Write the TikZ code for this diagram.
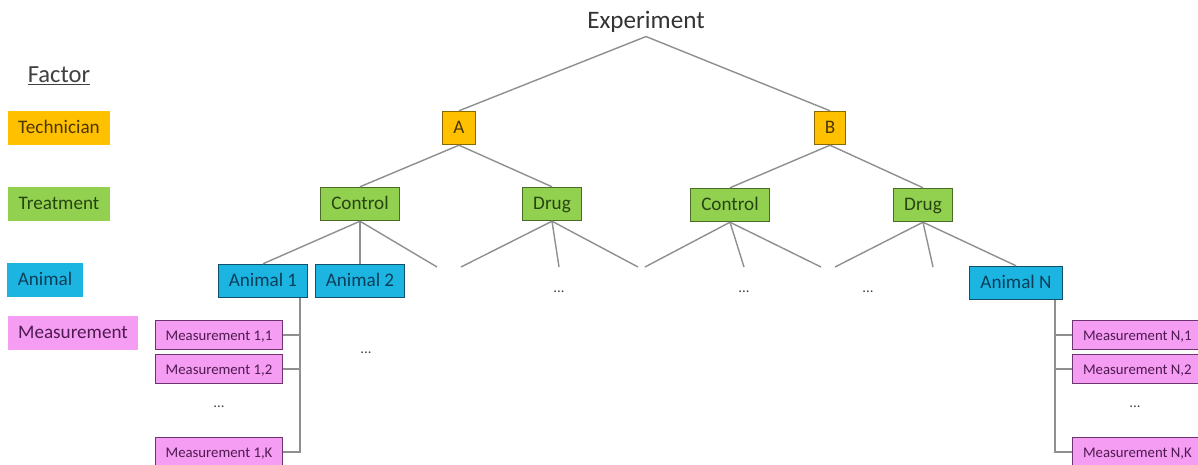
\documentclass[tikz,border=0pt]{standalone}
\usepackage{fontspec}
\setmainfont{Carlito}
\usetikzlibrary{positioning}

\definecolor{linegray}{HTML}{8F8F8F}
\definecolor{techfill}{HTML}{FFC000}
\definecolor{techline}{HTML}{8A6800}
\definecolor{techtext}{HTML}{4A3600}
\definecolor{treatfill}{HTML}{92D050}
\definecolor{treatline}{HTML}{4A6A28}
\definecolor{treattext}{HTML}{264410}
\definecolor{animfill}{HTML}{1CB5E2}
\definecolor{animline}{HTML}{10506A}
\definecolor{animtext}{HTML}{0A3E58}
\definecolor{measfill}{HTML}{F59CF3}
\definecolor{measline}{HTML}{6E3470}
\definecolor{meastext}{HTML}{4E1A50}

\begin{document}
\begin{tikzpicture}[x=0.02cm,y=-0.02cm,
    link/.style={draw=linegray, line width=0.8pt},
    box/.style={draw, line width=0.6pt, inner xsep=6pt, inner ysep=0pt,
        text height=1.45ex, text depth=0.12ex,
        minimum height=19pt, font=\fontsize{10.9}{13}\selectfont},
    tech/.style={box, fill=techfill, draw=techline, text=techtext},
    treat/.style={box, fill=treatfill, draw=treatline, text=treattext},
    anim/.style={box, fill=animfill, draw=animline, text=animtext},
    meas/.style={box, fill=measfill, draw=measline, text=meastext,
        minimum height=17pt, font=\fontsize{8.4}{10}\selectfont},
    legend/.style={draw=none},
    more/.style={text=black!75, font=\fontsize{8.4}{10}\selectfont}]

    \useasboundingbox (0,0) rectangle (1198,465);

    %factor legend:
    \node[font=\fontsize{14}{16}\selectfont, text=black!75] (factor) at (59,76) {\underline{Factor}};
    \node[tech, legend] (ltech) at (59,128) {Technician};
    \node[treat, legend] (ltreat) at (59,204) {Treatment};
    \node[anim, legend] (lanim) at (45,280) {Animal};
    \node[box, fill=measfill, draw=none, text=meastext] (lmeas) at (73,333) {Measurement};

    %tree:
    \node[font=\fontsize{14.3}{16}\selectfont, text=black!80, inner sep=2pt] (exp) at (646,22) {Experiment};
    \node[tech] (techA) at (459,128) {A};
    \node[tech] (techB) at (830,128) {B};
    \node[treat] (ctlA) at (360,204) {Control};
    \node[treat] (drgA) at (552,204) {Drug};
    \node[treat] (ctlB) at (730,205) {Control};
    \node[treat] (drgB) at (923,205) {Drug};
    \node[anim] (a1) at (263,281) {Animal 1};
    \node[anim] (a2) at (360,281) {Animal 2};
    \node[anim] (aN) at (1016,283) {Animal N};

    %loose ends:
    \coordinate (ctlA3) at (437,267);
    \coordinate (drgA1) at (461,267);
    \coordinate (drgA2) at (559,267);
    \coordinate (drgA3) at (638,267);
    \coordinate (ctlB1) at (645,267);
    \coordinate (ctlB2) at (744,267);
    \coordinate (ctlB3) at (821,267);
    \coordinate (drgB1) at (835,267);
    \coordinate (drgB2) at (933,267);

    \draw[link] (exp.south) -- (techA.north);
    \draw[link] (exp.south) -- (techB.north);
    \draw[link] (techA.south) -- (ctlA.north);
    \draw[link] (techA.south) -- (drgA.north);
    \draw[link] (techB.south) -- (ctlB.north);
    \draw[link] (techB.south) -- (drgB.north);
    \draw[link] (ctlA.south) -- (a1.north);
    \draw[link] (ctlA.south) -- (a2.north);
    \draw[link] (ctlA.south) -- (ctlA3);
    \draw[link] (drgA.south) -- (drgA1);
    \draw[link] (drgA.south) -- (drgA2);
    \draw[link] (drgA.south) -- (drgA3);
    \draw[link] (ctlB.south) -- (ctlB1);
    \draw[link] (ctlB.south) -- (ctlB2);
    \draw[link] (ctlB.south) -- (ctlB3);
    \draw[link] (drgB.south) -- (drgB1);
    \draw[link] (drgB.south) -- (drgB2);
    \draw[link] (drgB.south) -- (aN.north);

    \node[more] (dotsA2) at (366,353) {...};
    \node[more] (dotsDA) at (559,292) {...};
    \node[more] (dotsCB) at (744,292) {...};
    \node[more] (dotsDB) at (868,292) {...};

    %measurements of animal 1:
    \node[meas] (m11) at (219,335) {Measurement 1,1};
    \node[meas] (m12) at (219,369) {Measurement 1,2};
    \node[more] (dots1) at (219,407) {...};
    \node[meas] (m1k) at (219,452) {Measurement 1,K};
    \coordinate (bus1) at (300,452);
    \draw[link] (a1.south -| bus1) -- (bus1) -- (m1k.east);
    \draw[link] (m11.east) -- (m11.east -| bus1);
    \draw[link] (m12.east) -- (m12.east -| bus1);

    %measurements of animal N:
    \node[meas, anchor=west] (mN1) at (1072,335) {Measurement N,1};
    \node[meas, anchor=west] (mN2) at (1072,369) {Measurement N,2};
    \node[more] (dotsN) at (1135,407) {...};
    \node[meas, anchor=west] (mNk) at (1072,452) {Measurement N,K};
    \coordinate (busN) at (1055,452);
    \draw[link] (aN.south -| busN) -- (busN) -- (mNk.west);
    \draw[link] (mN1.west) -- (mN1.west -| busN);
    \draw[link] (mN2.west) -- (mN2.west -| busN);

\end{tikzpicture}
\end{document}
